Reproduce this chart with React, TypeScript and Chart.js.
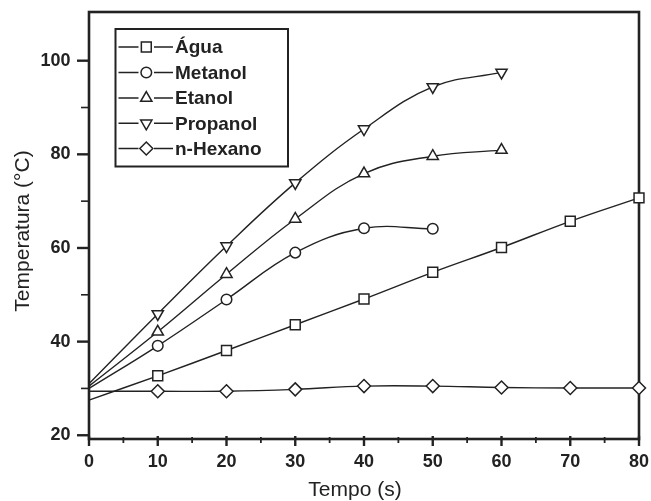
import React, { useEffect, useRef } from "react";
import { Chart, registerables } from "chart.js";

Chart.register(...registerables);

const times = [0, 10, 20, 30, 40, 50, 60, 70, 80];
const agua = [27.5, 32.7, 38.1, 43.6, 49.1, 54.8, 60.1, 65.7, 70.7];
const metanol = [30.0, 39.1, 49.0, 59.0, 64.2, 64.1];
const etanol = [30.5, 42.1, 54.4, 66.2, 75.9, 79.6, 80.9];
const propanol = [31.0, 45.9, 60.4, 73.9, 85.4, 94.4, 97.5];
const hexano = [29.4, 29.4, 29.4, 29.8, 30.5, 30.5, 30.2, 30.1, 30.1];

const seriesNames = ["Água", "Metanol", "Etanol", "Propanol", "n-Hexano"];
const xTicks = [0, 10, 20, 30, 40, 50, 60, 70, 80];
const yTicks = [20, 40, 60, 80, 100];
const xMinorTicks = [5, 15, 25, 35, 45, 55, 65, 75];
const yMinorTicks = [30, 50, 70, 90];
const xTitle = "Tempo (s)";
const yTitle = "Temperatura (°C)";

const INK = "#222";
const FONT = "'Liberation Sans', Arial, sans-serif";

type Marker = { style: string; radius: number; rotation: number };
const markers: Marker[] = [
  { style: "rect", radius: 7, rotation: 0 },
  { style: "circle", radius: 5.3, rotation: 0 },
  { style: "triangle", radius: 6.5, rotation: 0 },
  { style: "triangle", radius: 6.5, rotation: 180 },
  { style: "rectRot", radius: 6.5, rotation: 0 },
];

function drawMarker(ctx: CanvasRenderingContext2D, m: Marker, x: number, y: number) {
  ctx.save();
  ctx.beginPath();
  const r = m.radius;
  if (m.style === "rect") {
    const s = Math.SQRT1_2 * r;
    ctx.rect(x - s, y - s, 2 * s, 2 * s);
  } else if (m.style === "circle") {
    ctx.arc(x, y, r, 0, Math.PI * 2);
  } else if (m.style === "triangle") {
    let rad = (m.rotation * Math.PI) / 180;
    ctx.moveTo(x + Math.sin(rad) * r, y - Math.cos(rad) * r);
    for (let i = 0; i < 2; i++) {
      rad += (2 * Math.PI) / 3;
      ctx.lineTo(x + Math.sin(rad) * r, y - Math.cos(rad) * r);
    }
    ctx.closePath();
  } else {
    ctx.moveTo(x - r, y);
    ctx.lineTo(x, y - r);
    ctx.lineTo(x + r, y);
    ctx.lineTo(x, y + r);
    ctx.closePath();
  }
  ctx.fillStyle = "#fff";
  ctx.fill();
  ctx.lineWidth = 1.5;
  ctx.strokeStyle = INK;
  ctx.stroke();
  ctx.restore();
}

const decorPlugin = {
  id: "decor",
  beforeDatasetsDraw(chart: any) {
    const { ctx, chartArea: a, scales } = chart;
    const xs = scales.x;
    const ys = scales.y;
    ctx.save();
    ctx.strokeStyle = INK;
    ctx.lineWidth = 2.6;
    ctx.strokeRect(a.left, a.top, a.right - a.left, a.bottom - a.top);
    ctx.lineWidth = 2.4;
    for (const v of xTicks) {
      const px = xs.getPixelForValue(v);
      ctx.beginPath();
      ctx.moveTo(px, a.bottom - 3);
      ctx.lineTo(px, a.bottom + 7);
      ctx.stroke();
    }
    ctx.lineWidth = 1.8;
    for (const v of xMinorTicks) {
      const px = xs.getPixelForValue(v);
      ctx.beginPath();
      ctx.moveTo(px, a.bottom - 2);
      ctx.lineTo(px, a.bottom + 4);
      ctx.stroke();
    }
    ctx.lineWidth = 2.4;
    for (const v of yTicks) {
      const py = ys.getPixelForValue(v);
      ctx.beginPath();
      ctx.moveTo(a.left - 12, py);
      ctx.lineTo(a.left, py);
      ctx.stroke();
    }
    ctx.lineWidth = 1.6;
    for (const v of yMinorTicks) {
      const py = ys.getPixelForValue(v);
      ctx.beginPath();
      ctx.moveTo(a.left - 8, py);
      ctx.lineTo(a.left, py);
      ctx.stroke();
    }
    ctx.fillStyle = INK;
    ctx.font = `21px ${FONT}`;
    ctx.textAlign = "center";
    ctx.textBaseline = "middle";
    ctx.fillText(xTitle, 355, 490);
    ctx.save();
    ctx.translate(23, 231);
    ctx.rotate(-Math.PI / 2);
    ctx.fillText(yTitle, 0, 0);
    ctx.restore();
    ctx.restore();
  },
  afterDraw(chart: any) {
    const { ctx } = chart;
    ctx.save();
    ctx.strokeStyle = INK;
    ctx.lineWidth = 2;
    ctx.fillStyle = "#fff";
    ctx.fillRect(115.5, 29, 172.5, 137.5);
    ctx.strokeRect(115.5, 29, 172.5, 137.5);
    const rowY = [47, 72.5, 98, 123.3, 148.5];
    chart.data.datasets.forEach((ds: any, i: number) => {
      const y = rowY[i];
      ctx.lineWidth = 1.5;
      ctx.strokeStyle = INK;
      ctx.beginPath();
      ctx.moveTo(118.5, y);
      ctx.lineTo(138.5, y);
      ctx.moveTo(154, y);
      ctx.lineTo(173, y);
      ctx.stroke();
      drawMarker(ctx, markers[i], 146.3, y);
      ctx.fillStyle = INK;
      ctx.font = `bold 19px ${FONT}`;
      ctx.textAlign = "left";
      ctx.textBaseline = "middle";
      ctx.fillText(ds.label, 175, y + 1);
    });
    ctx.restore();
  },
};

function makeSeries(values: number[], i: number) {
  const m = markers[i];
  return {
    label: seriesNames[i],
    data: values.map((v, k) => ({ x: times[k], y: v })),
    borderColor: INK,
    borderWidth: 1.4,
    backgroundColor: "#fff",
    pointBackgroundColor: "#fff",
    pointBorderColor: INK,
    pointBorderWidth: 1.5,
    pointStyle: m.style,
    pointRotation: m.rotation,
    pointRadius: values.map((_, k) => (k === 0 ? 0 : m.radius)),
    pointHoverRadius: values.map((_, k) => (k === 0 ? 0 : m.radius)),
    tension: 0.4,
    fill: false,
    clip: false as any,
  };
}

export default function App() {
  const ref = useRef<HTMLCanvasElement | null>(null);
  useEffect(() => {
    if (!ref.current) return;
    const chart = new Chart(ref.current, {
      type: "line",
      data: {
        datasets: [
          makeSeries(agua, 0),
          makeSeries(metanol, 1),
          makeSeries(etanol, 2),
          makeSeries(propanol, 3),
          makeSeries(hexano, 4),
        ] as any,
      },
      options: {
        animation: false,
        responsive: false,
        devicePixelRatio: 1,
        layout: { padding: { left: 0, right: 12, top: 12, bottom: 0 } },
        plugins: {
          legend: { display: false },
          tooltip: { enabled: false },
        },
        scales: {
          x: {
            type: "linear",
            min: 0,
            max: 80,
            grid: { display: false, drawTicks: false },
            border: { display: false },
            afterBuildTicks: (s: any) => {
              s.ticks = xTicks.map((v) => ({ value: v }));
            },
            afterFit: (s: any) => {
              s.height = 62;
              s.paddingLeft = 0;
              s.paddingRight = 0;
            },
            ticks: {
              padding: 12,
              color: INK,
              font: { family: FONT, size: 18, weight: "bold" },
              maxRotation: 0,
            },
          },
          y: {
            type: "linear",
            min: 19.2,
            max: 110.4,
            grid: { display: false, drawTicks: false },
            border: { display: false },
            afterBuildTicks: (s: any) => {
              s.ticks = yTicks.map((v) => ({ value: v }));
            },
            afterFit: (s: any) => {
              s.width = 89;
              s.paddingTop = 0;
              s.paddingBottom = 0;
            },
            ticks: {
              padding: 18.5,
              color: INK,
              font: { family: FONT, size: 18, weight: "bold" },
            },
          },
        },
      },
      plugins: [decorPlugin],
    });
    return () => chart.destroy();
  }, []);
  return (
    <div style={{ position: "fixed", left: 0, top: 0, width: 651, height: 501, background: "#fff" }}>
      <canvas ref={ref} width={651} height={501} style={{ width: 651, height: 501, display: "block" }} />
    </div>
  );
}
